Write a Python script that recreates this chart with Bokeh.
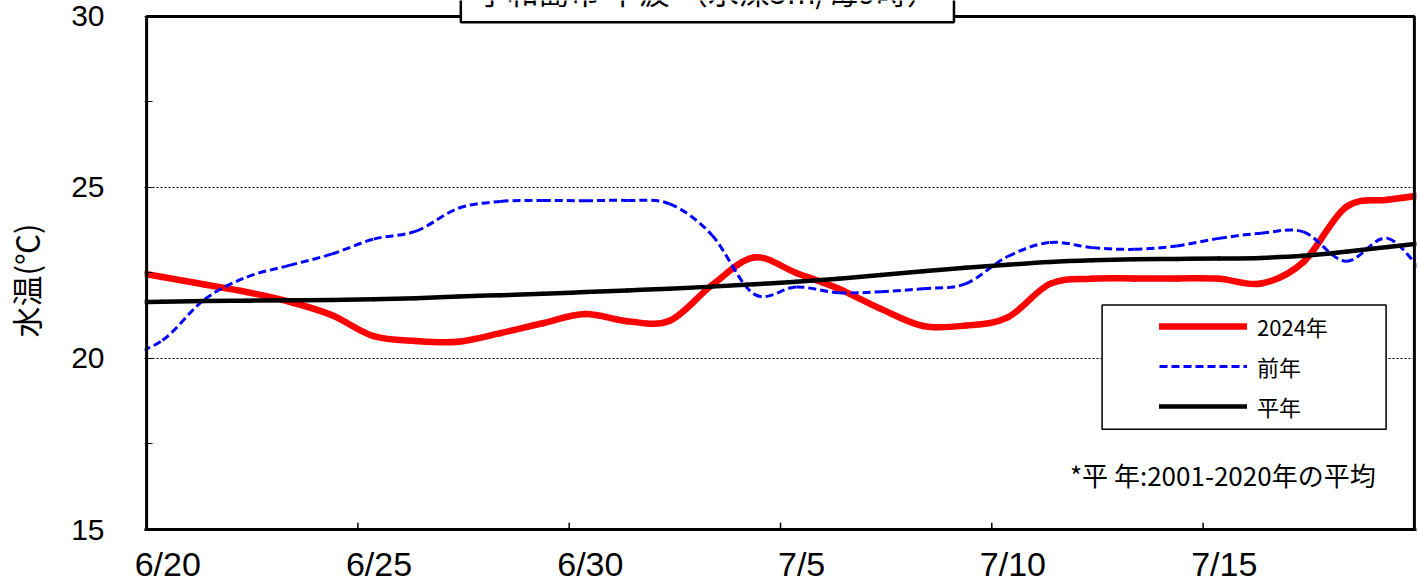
from bokeh.plotting import figure
from bokeh.models import (Range1d, FixedTicker, SingleIntervalTicker, ColumnDataSource,
                          Legend, LegendItem, Label, BoxAnnotation)
from bokeh.embed import file_html
from bokeh.resources import INLINE

# ---- data (daily at 09:00, 6/19 .. 7/20) ----
day_index = list(range(-1, 31))          # days after 6/20
obs_hour = 9
temp_2024 = [22.60, 22.38, 22.16, 21.94, 21.66, 21.27, 20.65, 20.51, 20.49, 20.74, 21.03,
             21.30, 21.09, 21.10, 22.14, 22.95, 22.50, 22.04, 21.45, 20.95, 20.96,
             21.20, 22.18, 22.33, 22.34, 22.34, 22.33, 22.19, 22.82, 24.42, 24.64, 24.80]
temp_prev = [20.00, 20.53, 21.73, 22.38, 22.72, 23.05, 23.49, 23.72, 24.39, 24.59, 24.62,
             24.61, 24.62, 24.52, 23.61, 21.88, 22.09, 21.92, 21.95, 22.04, 22.18,
             22.98, 23.39, 23.24, 23.19, 23.29, 23.51, 23.66, 23.70, 22.84, 23.51, 22.20]
temp_norm = [21.64, 21.66, 21.68, 21.69, 21.70, 21.71, 21.73, 21.76, 21.81, 21.85, 21.89,
             21.94, 21.99, 22.04, 22.10, 22.17, 22.24, 22.33, 22.44, 22.55, 22.65,
             22.74, 22.82, 22.87, 22.90, 22.91, 22.92, 22.94, 23.00, 23.12, 23.26, 23.40]
tick_days = [0, 5, 10, 15, 20, 25]
tick_labels = ["6/20", "6/25", "6/30", "7/5", "7/10", "7/15"]
series_names = ["2024年", "前年", "平年"]
title_text = "宇和島市 下波 （水深5m/毎9時）"
note_text = "*平 年:2001-2020年の平均"
y_title = "水温(℃)"
x_min, x_max = 0, 30
y_min, y_max = 15, 30

xs = [d + obs_hour / 24 for d in day_index]

def smooth_source(x, y):
    n = len(x)
    d = dict(x0=[], y0=[], x1=[], y1=[], cx0=[], cy0=[], cx1=[], cy1=[])
    for i in range(n - 1):
        a = max(i - 1, 0)
        b = min(i + 2, n - 1)
        d["x0"].append(x[i]); d["y0"].append(y[i])
        d["x1"].append(x[i + 1]); d["y1"].append(y[i + 1])
        d["cx0"].append(x[i] + (x[i + 1] - x[a]) / 6)
        d["cy0"].append(y[i] + (y[i + 1] - y[a]) / 6)
        d["cx1"].append(x[i + 1] - (x[b] - x[i]) / 6)
        d["cy1"].append(y[i + 1] - (y[b] - y[i]) / 6)
    return ColumnDataSource(d)

JP = "Noto Sans CJK JP"

# frame extends a little past the plot box so the title box above it can be drawn
p = figure(width=1418, height=585, output_backend="svg", toolbar_location=None,
           x_range=Range1d(x_min - 0.05, x_max + 0.05),
           y_range=Range1d(y_min, y_max + 16 / 34.47),
           min_border_left=143, min_border_right=2, min_border_top=0, min_border_bottom=52)
p.background_fill_color = "white"
p.border_fill_color = "white"
p.outline_line_color = None

# axes
p.xaxis.ticker = FixedTicker(ticks=[t + 0.5 for t in tick_days])
p.xaxis.major_label_overrides = {t + 0.5: l for t, l in zip(tick_days, tick_labels)}
p.xaxis.major_tick_line_color = None
p.xaxis.major_tick_out = 0
p.xaxis.major_tick_in = 0
p.xaxis.minor_tick_line_color = None
p.xaxis.minor_tick_out = 0
p.xaxis.axis_line_width = 3
p.xaxis.major_label_standoff = 15
p.xaxis.major_label_text_font = "Liberation Sans"
p.xaxis.major_label_text_font_size = "34px"
p.xaxis.major_label_text_color = "black"

p.yaxis.ticker = SingleIntervalTicker(interval=5, num_minor_ticks=2)
p.yaxis.axis_line_color = None
p.yaxis.major_tick_in = 8
p.yaxis.major_tick_out = 0
p.yaxis.minor_tick_in = 8
p.yaxis.minor_tick_out = 0
p.yaxis.major_label_standoff = 40
p.yaxis.major_label_text_font = "Liberation Sans"
p.yaxis.major_label_text_font_size = "30px"
p.yaxis.major_label_text_color = "black"
p.yaxis.axis_label = y_title + "\u3000"
p.yaxis.axis_label_text_font = JP
p.yaxis.axis_label_text_font_style = "normal"
p.yaxis.axis_label_text_font_size = "31px"
p.yaxis.axis_label_text_color = "black"
p.yaxis.axis_label_standoff = 20

p.xgrid.grid_line_color = None
p.ygrid.grid_line_color = "black"
p.ygrid.grid_line_dash = "2 2"
p.ygrid.grid_line_width = 1

# x tick marks (inside)
p.segment(x0=tick_days, y0=[y_min] * len(tick_days), x1=tick_days,
          y1=[y_min + 0.2] * len(tick_days), line_color="black", line_width=1.5)

# series (Excel order: 2024, previous year, normal on top)
r_2024 = p.bezier(source=smooth_source(xs, temp_2024), x0="x0", y0="y0", x1="x1", y1="y1",
                  cx0="cx0", cy0="cy0", cx1="cx1", cy1="cy1",
                  line_color="#FF0000", line_width=6.5, line_cap="round")
r_prev = p.bezier(source=smooth_source(xs, temp_prev), x0="x0", y0="y0", x1="x1", y1="y1",
                  cx0="cx0", cy0="cy0", cx1="cx1", cy1="cy1",
                  line_color="#0000FF", line_width=3, line_dash="8 4")
r_norm = p.bezier(source=smooth_source(xs, temp_norm), x0="x0", y0="y0", x1="x1", y1="y1",
                  cx0="cx0", cy0="cy0", cx1="cx1", cy1="cy1",
                  line_color="black", line_width=4.5, line_cap="round")

# white mask over the lines' ends beyond the plot box, then the plot box border
p.add_layout(BoxAnnotation(left=x_max, fill_color="white", fill_alpha=1, line_alpha=0))
p.add_layout(BoxAnnotation(right=x_min, fill_color="white", fill_alpha=1, line_alpha=0))
p.add_layout(BoxAnnotation(left=x_min, right=x_max, bottom=y_min, top=y_max,
                           fill_alpha=0, line_color="black", line_alpha=1, line_width=3))

# legend
p.add_layout(BoxAnnotation(left=22.61, right=29.33, bottom=17.93, top=21.56,
                           fill_color="white", fill_alpha=1, line_color="black",
                           line_alpha=1, line_width=1.5))
legend = Legend(items=[LegendItem(label=series_names[0], renderers=[r_2024]),
                       LegendItem(label=series_names[1], renderers=[r_prev]),
                       LegendItem(label=series_names[2], renderers=[r_norm])],
                location=(1015, 107), padding=0, margin=0, spacing=8,
                glyph_width=88, glyph_height=30, label_height=30, label_standoff=10,
                label_text_font=JP, label_text_font_size="22px", label_text_color="black",
                border_line_color=None, background_fill_alpha=0)
p.add_layout(legend)

p.add_layout(Label(x=21.85, y=16.6, text=note_text, text_font=JP, text_font_size="26px",
                   text_baseline="middle", text_align="left", text_color="black"))

p.add_layout(Label(x=13.27, y=y_max - 6 / 34.47, text=title_text, text_font=JP,
                   text_font_size="31px", text_baseline="bottom", text_align="center",
                   text_color="black", border_line_color="black", border_line_width=2.5,
                   background_fill_color="white",
                   padding=dict(left=16, right=16, top=9, bottom=9)))

open("out.html", "w").write(file_html(p, INLINE, "chart"))
